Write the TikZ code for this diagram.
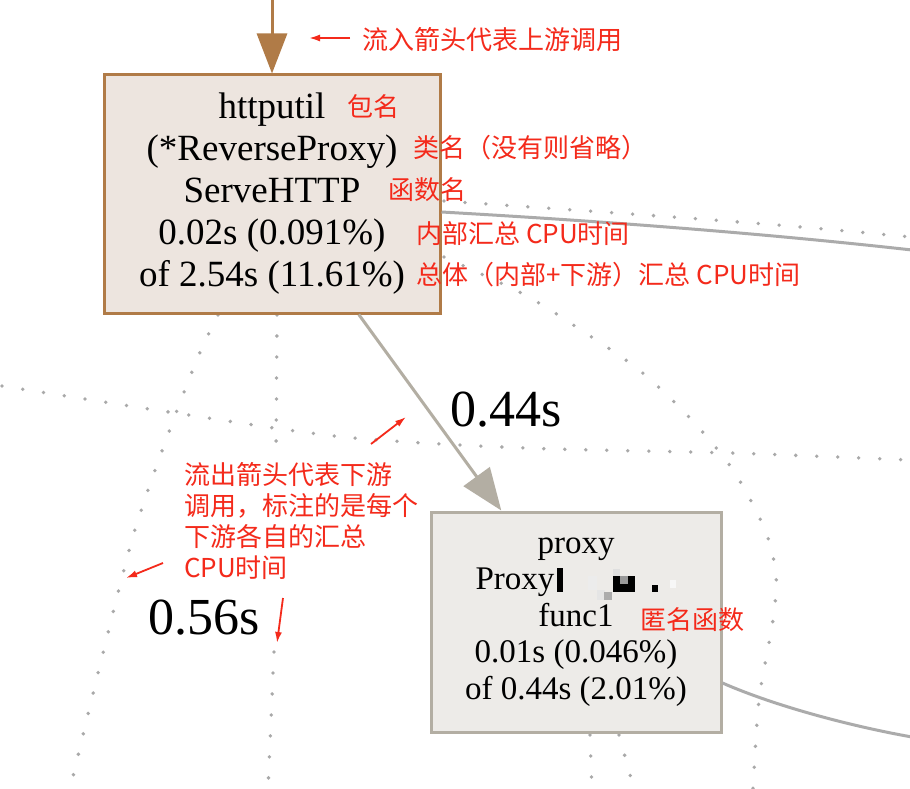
\documentclass[tikz,border=0pt]{standalone}
\usepackage{fontspec}
\setmainfont{Liberation Serif}
\newfontfamily\cjk{Noto Sans CJK SC}
\usetikzlibrary{arrows.meta,calc}
\definecolor{brownc}{HTML}{B07B47}
\definecolor{boxafill}{HTML}{EDE5DF}
\definecolor{boxbfill}{HTML}{EDEBE8}
\definecolor{boxbline}{HTML}{B3AEA3}
\definecolor{solidgray}{HTML}{ABABAB}
\definecolor{dotgray}{HTML}{A9A9A9}
\definecolor{annred}{HTML}{F42A1B}
\tikzset{
  dotline/.style={draw=dotgray, line width=3.8pt, line cap=round, dash pattern=on 0pt off 21pt},
  solidline/.style={draw=solidgray, line width=3pt},
  boxa/.style={draw=brownc, fill=boxafill, line width=3pt, minimum width=336pt, minimum height=238pt, inner sep=0pt, align=center, font=\fontsize{37}{42}\selectfont},
  boxb/.style={draw=boxbline, fill=boxbfill, line width=3pt, minimum width=290pt, minimum height=220pt, inner sep=0pt, align=center, font=\fontsize{33}{36.5}\selectfont},
  inarrow/.style={draw=brownc, line width=3pt, -{Triangle[length=40pt,width=30pt,fill=brownc]}},
  outarrow/.style={draw=boxbline, line width=3pt, -{Triangle[length=42pt,width=32pt,fill=boxbline]}},
  edgelabel/.style={font=\fontsize{52}{52}\selectfont, inner sep=0pt},
  ann/.style={text=annred, font=\cjk\fontsize{26}{31}\selectfont, inner sep=0pt, anchor=west},
  annarrow/.style={draw=annred, line width=1.8pt, -{Latex[length=11pt,width=7pt]}},
}
\begin{document}
\begin{tikzpicture}[x=1pt,y=-1pt]
\useasboundingbox (0,0) rectangle (910,789);
\fill[white] (0,0) rectangle (910,789);

% dotted connectors (to nodes outside the picture)
\draw[dotline] plot[smooth] coordinates {(218,315) (198,357) (166,440) (134,533) (102,657) (70,789)};
\draw[dotline] (277,315) -- (276,460);
\draw[dotline] (274,652) -- (268,789);
\draw[dotline] plot[smooth] coordinates {(2,386) (169,412) (344,437) (525,448) (730,453) (910,460)};
\draw[dotline] (444,201) .. controls (600,212) and (760,222) .. (910,237);
\draw[dotline] plot[smooth] coordinates {(444,257) (525,295) (584,332) (639,370) (689,417) (733,470) (765,530) (776,575) (773,620) (759,700) (753,789)};
\draw[dotline] (590,735) -- (592,789);
\draw[dotline] (619,735) -- (634,789);

% boxes
\node[boxa] (box1) at (272,194) {httputil\\(*ReverseProxy)\\ServeHTTP\\0.02s (0.091\%)\\of 2.54s (11.61\%)};
\node[boxb] (box2) at (576,622) {proxy\\\makebox[201pt][l]{Proxy}\\func1\\0.01s (0.046\%)\\of 0.44s (2.01\%)};

% solid connectors leaving the picture
\coordinate (outa) at (912,250);
\coordinate (outb) at (912,737);
\draw[solidline] (box1.east |- 0,212) .. controls (600,221) and (760,233) .. (outa);
\draw[solidline] (box2.east |- 0,683) .. controls (775,706) and (850,726) .. (outb);

% pixelated blur
\fill[black] (557,568) rectangle (563,592);
\fill[gray!15] (588,576) rectangle (597,590);
\fill[gray!20] (597,590) rectangle (605,600);
\fill[gray!65] (604,592) rectangle (612,600);
\fill[gray!25] (613,569) rectangle (620,576);
\fill[black] (613,576) rectangle (635,592);
\fill[gray!80] (620,576) rectangle (628,584);
\fill[black] (652,585) rectangle (658,592);
\fill[gray!6] (670,580) rectangle (676,588);

% edges
\coordinate (topin) at (272,0);
\draw[inarrow] (topin) -- (box1.north);
\draw[outarrow] ($(box1.south west)!0.756!(box1.south east)$) -- ($(box2.north west)!0.245!(box2.north east)$);

% edge labels
\node[edgelabel] (l044) at (506,410) {0.44s};
\node[edgelabel] (l056) at (204,618) {0.56s};

% annotations
\node[ann] (a1) at (362,40) {流入箭头代表上游调用};
\node[ann] (a2) at (347,107) {包名};
\node[ann] (a3) at (413,148) {类名（没有则省略）};
\node[ann] (a4) at (388,190) {函数名};
\node[ann] (a5) at (416,234) {内部汇总 CPU时间};
\node[ann] (a6) at (416,275) {总体（内部+下游）汇总 CPU时间};
\node[ann, anchor=north west, align=left] (a7) at (184,462) {流出箭头代表下游\\调用，标注的是每个\\下游各自的汇总\\CPU时间};
\node[ann] (a8) at (640,620) {匿名函数};

\coordinate (r1s) at (350,38); \coordinate (r1e) at (309,38);
\coordinate (r2s) at (371,444); \coordinate (r2e) at (406,417);
\coordinate (r3s) at (163,563); \coordinate (r3e) at (126,578);
\coordinate (r4s) at (283,598); \coordinate (r4e) at (277,643);
\draw[annarrow] (r1s) -- (r1e);
\draw[annarrow] (r2s) -- (r2e);
\draw[annarrow] (r3s) -- (r3e);
\draw[annarrow] (r4s) -- (r4e);
\end{tikzpicture}
\end{document}
